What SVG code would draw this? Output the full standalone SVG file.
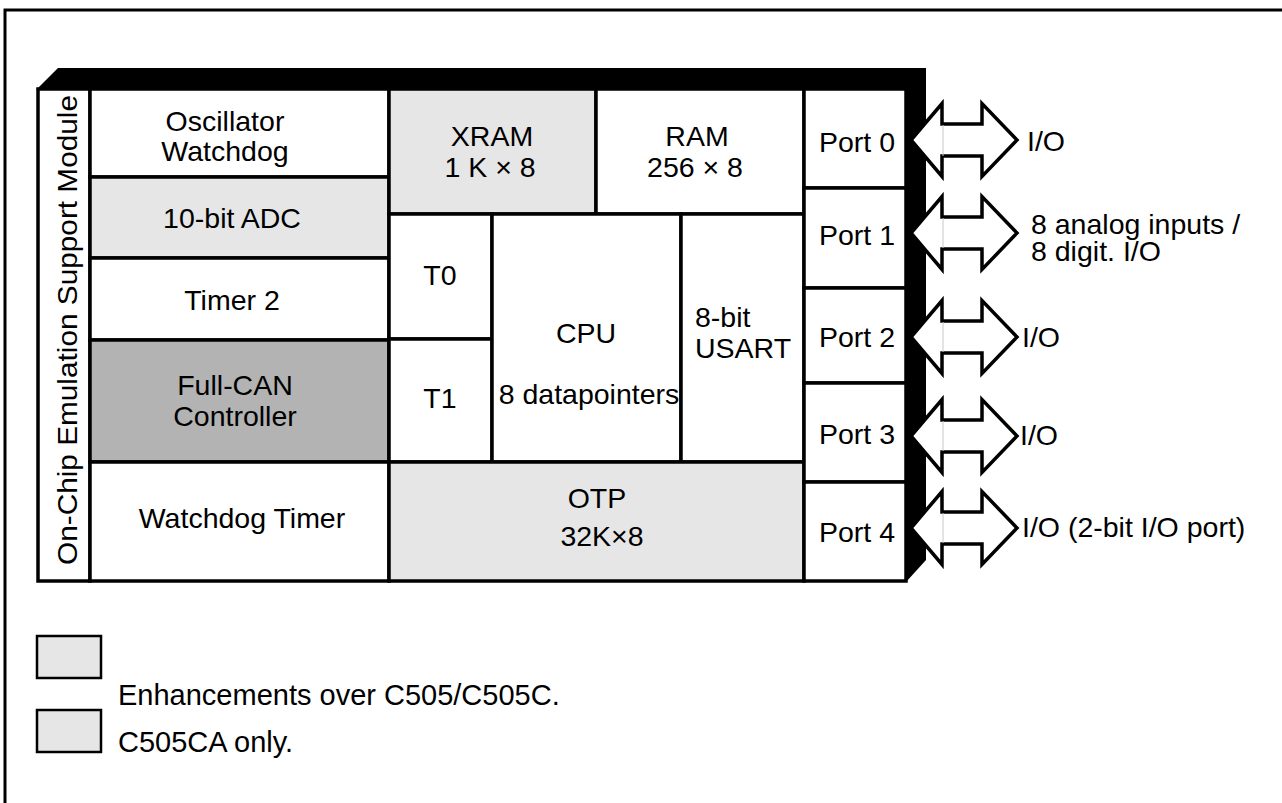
<svg xmlns="http://www.w3.org/2000/svg" width="1282" height="803" viewBox="0 0 1282 803">
<style>
.cell{stroke:#000;stroke-width:3.5}
.w{fill:#fff}.lg{fill:#e6e6e6}.dg{fill:#b3b3b3}
text{font-family:"Liberation Sans",Arial,sans-serif;font-size:28.5px;fill:#000}
.c{text-anchor:middle}
.leg{font-size:29px}
.arrow{fill:#fff;stroke:#000;stroke-width:3.5;stroke-linejoin:miter}
.seam{stroke:#c8c8c8;stroke-width:1}
</style>
<defs>
<polygon id="dblarrow" points="911,0 942,-36.5 942,-16 982,-16 982,-36.5 1017,0 982,36.5 982,16 942,16 942,36.5"/>
</defs>
<rect width="1282" height="803" fill="#fff"/>
<g id="frame" fill="none" stroke="#000" stroke-width="3">
<path d="M1282,10 H5 V803"/>
</g>
<g id="shadow">
<polygon points="36,90 58,68 926,68 926,560 906,582 906,90" fill="#000"/>
</g>
<g id="emulation"><rect class="cell w" x="38" y="89" width="52" height="492"/>
<text font-size="29.5" class="c" transform="translate(77,330) rotate(-90)" textLength="470" lengthAdjust="spacingAndGlyphs">On-Chip Emulation Support Module</text></g>
<g id="osc"><rect class="cell w" x="90" y="89" width="299" height="88"/>
<text class="c" x="225" y="131">Oscillator</text><text class="c" x="225" y="161">Watchdog</text></g>
<g id="adc"><rect class="cell lg" x="90" y="177" width="299" height="81"/>
<text class="c" x="232" y="228">10-bit ADC</text></g>
<g id="timer2"><rect class="cell w" x="90" y="258" width="299" height="82"/>
<text class="c" x="232" y="310">Timer 2</text></g>
<g id="can"><rect class="cell dg" x="90" y="340" width="299" height="122"/>
<text class="c" x="235" y="395">Full-CAN</text><text class="c" x="235" y="426">Controller</text></g>
<g id="wdt"><rect class="cell w" x="90" y="462" width="299" height="119"/>
<text class="c" x="242" y="528">Watchdog Timer</text></g>
<g id="xram"><rect class="cell lg" x="389" y="89" width="207" height="125"/>
<text class="c" x="492" y="146">XRAM</text><text class="c" x="490" y="177">1 K × 8</text></g>
<g id="ram"><rect class="cell w" x="596" y="89" width="208" height="125"/>
<text class="c" x="697" y="146">RAM</text><text class="c" x="695" y="177">256 × 8</text></g>
<g id="t0"><rect class="cell w" x="389" y="214" width="103" height="125"/>
<text class="c" x="440" y="285">T0</text></g>
<g id="t1"><rect class="cell w" x="389" y="339" width="103" height="123"/>
<text class="c" x="440" y="408">T1</text></g>
<g id="cpu"><rect class="cell w" x="492" y="214" width="189" height="248"/>
<text class="c" x="586" y="343">CPU</text><text class="c" x="589" y="404">8 datapointers</text></g>
<g id="usart"><rect class="cell w" x="681" y="214" width="123" height="248"/>
<text x="695" y="327">8-bit</text><text x="695" y="358">USART</text></g>
<g id="otp"><rect class="cell lg" x="389" y="462" width="415" height="119"/>
<text class="c" x="597" y="508">OTP</text><text class="c" x="602" y="546">32K×8</text></g>
<g id="port0"><rect class="cell w" x="804" y="89" width="102" height="99"/><text class="c" x="857" y="152">Port 0</text></g>
<g id="port1"><rect class="cell w" x="804" y="188" width="102" height="100"/><text class="c" x="857" y="245">Port 1</text></g>
<g id="port2"><rect class="cell w" x="804" y="288" width="102" height="95"/><text class="c" x="857" y="347">Port 2</text></g>
<g id="port3"><rect class="cell w" x="804" y="383" width="102" height="99"/><text class="c" x="857" y="444">Port 3</text></g>
<g id="port4"><rect class="cell w" x="804" y="482" width="102" height="99"/><text class="c" x="857" y="542">Port 4</text></g>
<g id="connectors">
<use href="#dblarrow" class="arrow" transform="translate(0,140)"/>
<use href="#dblarrow" class="arrow" transform="translate(0,233)"/>
<use href="#dblarrow" class="arrow" transform="translate(0,337)"/>
<use href="#dblarrow" class="arrow" transform="translate(0,436)"/>
<use href="#dblarrow" class="arrow" transform="translate(0,528)"/>
<path class="seam" d="M943,125V156M943,218V248M943,322V352M943,421V451M943,513V543"/>
</g>
<g id="io-labels">
<text x="1027" y="151">I/O</text>
<text x="1031" y="234">8 analog inputs /</text>
<text x="1031" y="261">8 digit. I/O</text>
<text x="1022" y="347">I/O</text>
<text x="1020" y="445">I/O</text>
<text x="1022" y="537">I/O (2-bit I/O port)</text>
</g>
<g id="legend">
<rect x="37" y="636" width="64" height="42" fill="#e6e6e6" stroke="#000" stroke-width="2.5"/>
<text class="leg" x="118" y="705">Enhancements over C505/C505C.</text>
<rect x="37" y="710" width="64" height="42" fill="#e6e6e6" stroke="#000" stroke-width="2.5"/>
<text class="leg" x="118" y="752">C505CA only.</text>
</g>
</svg>
